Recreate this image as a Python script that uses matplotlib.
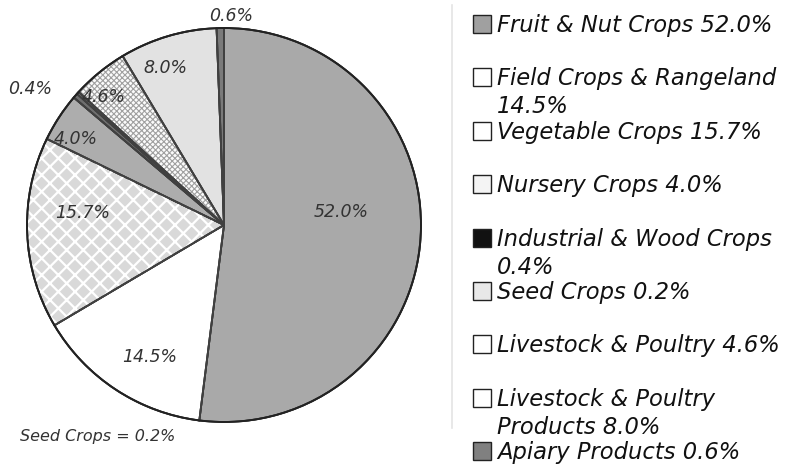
import numpy as np
import matplotlib.pyplot as plt
from matplotlib.patches import Wedge, Rectangle

# crop value shares, % (clockwise from 12 o'clock)
categories = ["Fruit & Nut Crops", "Field Crops & Rangeland", "Vegetable Crops",
              "Nursery Crops", "Industrial & Wood Crops", "Seed Crops",
              "Livestock & Poultry", "Livestock & Poultry Products", "Apiary Products"]
shares = [52.0, 14.5, 15.7, 4.0, 0.4, 0.2, 4.6, 8.0, 0.6]
legend_labels = ["Fruit & Nut Crops 52.0%", "Field Crops & Rangeland\n14.5%",
                 "Vegetable Crops 15.7%", "Nursery Crops 4.0%",
                 "Industrial & Wood Crops\n0.4%", "Seed Crops 0.2%",
                 "Livestock & Poultry 4.6%", "Livestock & Poultry\nProducts 8.0%",
                 "Apiary Products 0.6%"]
pie_labels = ["52.0%", "14.5%", "15.7%", "4.0%", "0.4%", "", "4.6%", "8.0%", "0.6%"]

# styling
face = ["#a9a9a9", "#ffffff", "#d9d9d9", "#adadad", "#6e6e6e", "#c8c8c8",
        "#fbfbfb", "#e2e2e2", "#7a7a7a"]
hatches = [None, None, "xx", None, None, None, "xxxxxx", None, None]
hatch_col = [None, None, "white", None, None, None, "#a0a0a0", None, None]
hatch_lw = [0, 0, 1.6, 0, 0, 0, 0.8, 0, 0]
legend_face = ["#a0a0a0", "white", "white", "#f4f4f4", "#111111", "#e8e8e8",
               "white", "white", "#808080"]
# label distance (fraction of radius) and small angle nudge in degrees
lab_r = [0.60, 0.77, 0.72, 0.87, 1.20, 0, 0.89, 0.85, 1.06]
lab_da = [10, 4, -7, 3, 6, 0, 4, 4, -3]

W, H = 786, 465
fig = plt.figure(figsize=(W / 100, H / 100), dpi=100)
cx, cy, R = 224, 225, 197
ax = fig.add_axes([(cx - R) / W, (H - cy - R) / H, 2 * R / W, 2 * R / H])

wedges, _ = ax.pie(shares, colors=face, startangle=90, counterclock=False,
                   radius=1, wedgeprops=dict(edgecolor="#404040", linewidth=1.3))
ax.set_xlim(-1, 1)
ax.set_ylim(-1, 1)
ax.set_aspect("equal")
ax.axis("off")

for w, h, hc, hl in zip(wedges, hatches, hatch_col, hatch_lw):
    if h:
        plt.rcParams["hatch.linewidth"] = hl
        ov = Wedge(w.center, w.r, w.theta1, w.theta2, facecolor="none",
                   edgecolor=hc, hatch=h, linewidth=0)
        ax.add_patch(ov)
# redraw wedge borders over hatching
for w in wedges:
    ax.add_patch(Wedge(w.center, w.r, w.theta1, w.theta2, facecolor="none",
                       edgecolor="#404040", linewidth=1.3))
# outer rim
ax.add_patch(plt.Circle((0, 0), 1, fill=False, edgecolor="#222222", linewidth=1.4,
                        clip_on=False))

for w, lab, r, da in zip(wedges, pie_labels, lab_r, lab_da):
    if not lab:
        continue
    ang = np.deg2rad((w.theta1 + w.theta2) / 2 + da)
    ax.text(r * np.cos(ang), r * np.sin(ang), lab, ha="center", va="center",
            fontsize=12.5, style="italic", color="#333333", clip_on=False)

fig.text(20 / W, 1 - 436 / H, "Seed Crops = 0.2%", fontsize=11.5, style="italic",
         color="#333333", va="center")

# legend, drawn by hand
base0, step, line_h = 32, 53.4, 28
for i, (lab, fc) in enumerate(zip(legend_labels, legend_face)):
    yb = base0 + i * step
    fig.patches.append(Rectangle((473 / W, 1 - (yb + 1) / H), 18 / W, 18 / H,
                                 transform=fig.transFigure, facecolor=fc,
                                 edgecolor="#222222", linewidth=1.0))
    for k, part in enumerate(lab.split("\n")):
        fig.text(497 / W, 1 - (yb + k * line_h) / H, part, fontsize=16.3,
                 style="italic", va="baseline", ha="left", color="#111111")

# faint scan line between pie and legend
fig.add_artist(plt.Line2D([452 / W, 452 / W], [1 - 5 / H, 1 - 428 / H],
                          transform=fig.transFigure, color="#e4e4e4", lw=1.2))

fig.savefig("out.png", dpi=100)
